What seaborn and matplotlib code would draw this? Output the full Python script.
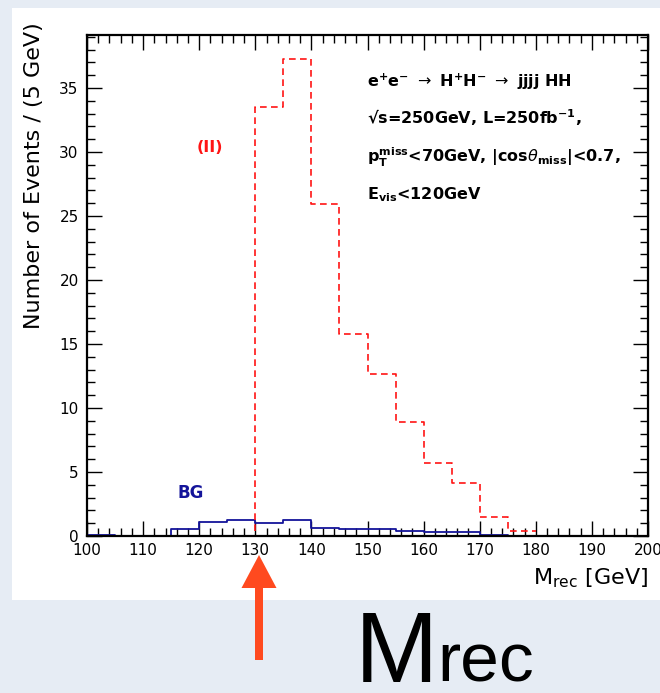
import numpy as np
import pandas as pd
import matplotlib
matplotlib.use("Agg")
import matplotlib.pyplot as plt
import seaborn as sns
from matplotlib.patches import Rectangle, FancyArrow
from matplotlib.ticker import MultipleLocator

# ---------------- data ----------------
sig_edges = [125, 130, 135, 140, 145, 150, 155, 160, 165, 170, 175, 180]
sig_counts = [0.0, 33.5, 37.3, 25.9, 15.8, 12.66, 8.93, 5.73, 4.17, 1.5, 0.39]

bg_edges = [100, 105, 110, 115, 120, 125, 130, 135, 140, 145, 150, 155, 160,
            165, 170, 175, 180, 185, 190, 195, 200]
bg_counts = [0.10, 0.03, 0.03, 0.57, 1.12, 1.25, 0.99, 1.25, 0.65, 0.55,
             0.55, 0.37, 0.34, 0.30, 0.10, 0.02, 0.02, 0.02, 0.02, 0.02]

x_ticks = [100, 110, 120, 130, 140, 150, 160, 170, 180, 190, 200]
y_ticks = [0, 5, 10, 15, 20, 25, 30, 35]

sig_df = pd.DataFrame({"mrec": [(a + b) / 2 for a, b in zip(sig_edges[:-1], sig_edges[1:])],
                       "w": sig_counts})
bg_df = pd.DataFrame({"mrec": [(a + b) / 2 for a, b in zip(bg_edges[:-1], bg_edges[1:])],
                      "w": bg_counts})

# ---------------- style ----------------
sns.set_theme(style="ticks")
plt.rcParams['font.family'] = ['DejaVu Sans']
plt.rcParams['mathtext.fontset'] = 'dejavusans'
for a in ('x', 'y'):
    plt.rcParams[f'{a}tick.direction'] = 'in'
    plt.rcParams[f'{a}tick.major.size'] = 11
    plt.rcParams[f'{a}tick.minor.size'] = 5.5
    plt.rcParams[f'{a}tick.major.width'] = 1.0
    plt.rcParams[f'{a}tick.minor.width'] = 1.0
    plt.rcParams[f'{a}tick.color'] = 'black'
    plt.rcParams[f'{a}tick.labelcolor'] = 'black'
plt.rcParams['xtick.top'] = True
plt.rcParams['ytick.right'] = True
plt.rcParams['axes.edgecolor'] = 'black'
plt.rcParams['axes.linewidth'] = 1.6

W, H = 660, 693
fig = plt.figure(figsize=(6.6, 6.93), dpi=100)
fig.patch.set_facecolor('#e6ecf4')
fig.add_artist(Rectangle((12 / W, 93 / H), (W - 12) / W, (600 - 8) / H,
                         transform=fig.transFigure, facecolor='white',
                         edgecolor='none', zorder=-5))

ax = fig.add_axes([87 / W, (H - 536) / H, (648 - 87) / W, (536 - 35) / H])
ax.set_facecolor('white')

sns.histplot(data=bg_df, x="mrec", weights="w", bins=bg_edges, element="step",
             fill=False, color='#14149a', linewidth=1.3, ax=ax)
sns.histplot(data=sig_df, x="mrec", weights="w", bins=sig_edges, element="step",
             fill=False, color='#ff1414', linewidth=1.2, linestyle=(0, (4, 2.6)), ax=ax)

ax.set_xlim(100, 200)
ax.set_ylim(0, 39.14)
ax.set_xticks(x_ticks)
ax.set_yticks(y_ticks)
ax.xaxis.set_minor_locator(MultipleLocator(2))
ax.yaxis.set_minor_locator(MultipleLocator(1))
ax.tick_params(which='both', direction='in', top=True, right=True,
               bottom=True, left=True, color='black')
ax.tick_params(which='major', length=11, width=1.0, labelsize=11)
ax.tick_params(which='minor', length=5.5, width=1.0)
ax.tick_params(axis='x', which='major', pad=5)
ax.tick_params(axis='y', which='major', pad=6)
for s in ax.spines.values():
    s.set_visible(True)
    s.set_linewidth(1.6)
    s.set_color('black')

ax.set_ylabel('Number of Events / (5 GeV)', loc='top', fontsize=16, color='black')
ax.yaxis.set_label_coords(-(87 - 44) / 561, 1 + 13 / 501)
ax.set_xlabel(r'M$_{\mathregular{rec}}$ [GeV]', loc='right', fontsize=16, color='black')
ax.xaxis.set_label_coords(1.0, -(566 - 536) / 501)

# annotations
tkw = dict(transform=ax.transAxes, fontsize=11.5, fontweight='bold', color='black',
           ha='left', va='center')
ax.text((367 - 87) / 561, (536 - 82) / 501,
        r'e$^{\mathbf{+}}$e$^{\mathbf{-}}$ $\rightarrow$ H$^{\mathbf{+}}$H$^{\mathbf{-}}$ $\rightarrow$ jjjj HH', **tkw)
ax.text((367 - 87) / 561, (536 - 118) / 501,
        '\u221As=250GeV, L=250fb$^{\\mathbf{-1}}$,', **tkw)
ax.text((367 - 87) / 561, (536 - 157) / 501,
        r'p$_{\mathbf{T}}^{\mathbf{miss}}$<70GeV, |cos$\theta_{\mathbf{miss}}$|<0.7,', **tkw)
ax.text((367 - 87) / 561, (536 - 195) / 501,
        r'E$_{\mathbf{vis}}$<120GeV', **tkw)
ax.text((210 - 87) / 561, (536 - 148) / 501, '(II)', transform=ax.transAxes,
        fontsize=11.5, fontweight='bold', color='#ff1414', ha='center', va='center')
ax.text((191 - 87) / 561, (536 - 493) / 501, 'BG', transform=ax.transAxes,
        fontsize=12, fontweight='bold', color='#14149a', ha='center', va='center')

# overlay for arrow and big label
ov = fig.add_axes([0, 0, 1, 1], zorder=10)
ov.set_xlim(0, W)
ov.set_ylim(H, 0)
ov.axis('off')
ov.patch.set_alpha(0)
ov.add_patch(FancyArrow(259, 660, 0, -(660 - 555), width=8, head_width=35,
                        head_length=33, length_includes_head=True,
                        color='#ff4a1f', lw=0))
ov.text(355, 682, 'M', fontsize=72, ha='left', va='baseline', color='black',
        family='Liberation Sans')
ov.text(437, 682, 'rec', fontsize=50, ha='left', va='baseline', color='black',
        family='Liberation Sans')

fig.savefig('out.png', dpi=100, facecolor=fig.get_facecolor())
